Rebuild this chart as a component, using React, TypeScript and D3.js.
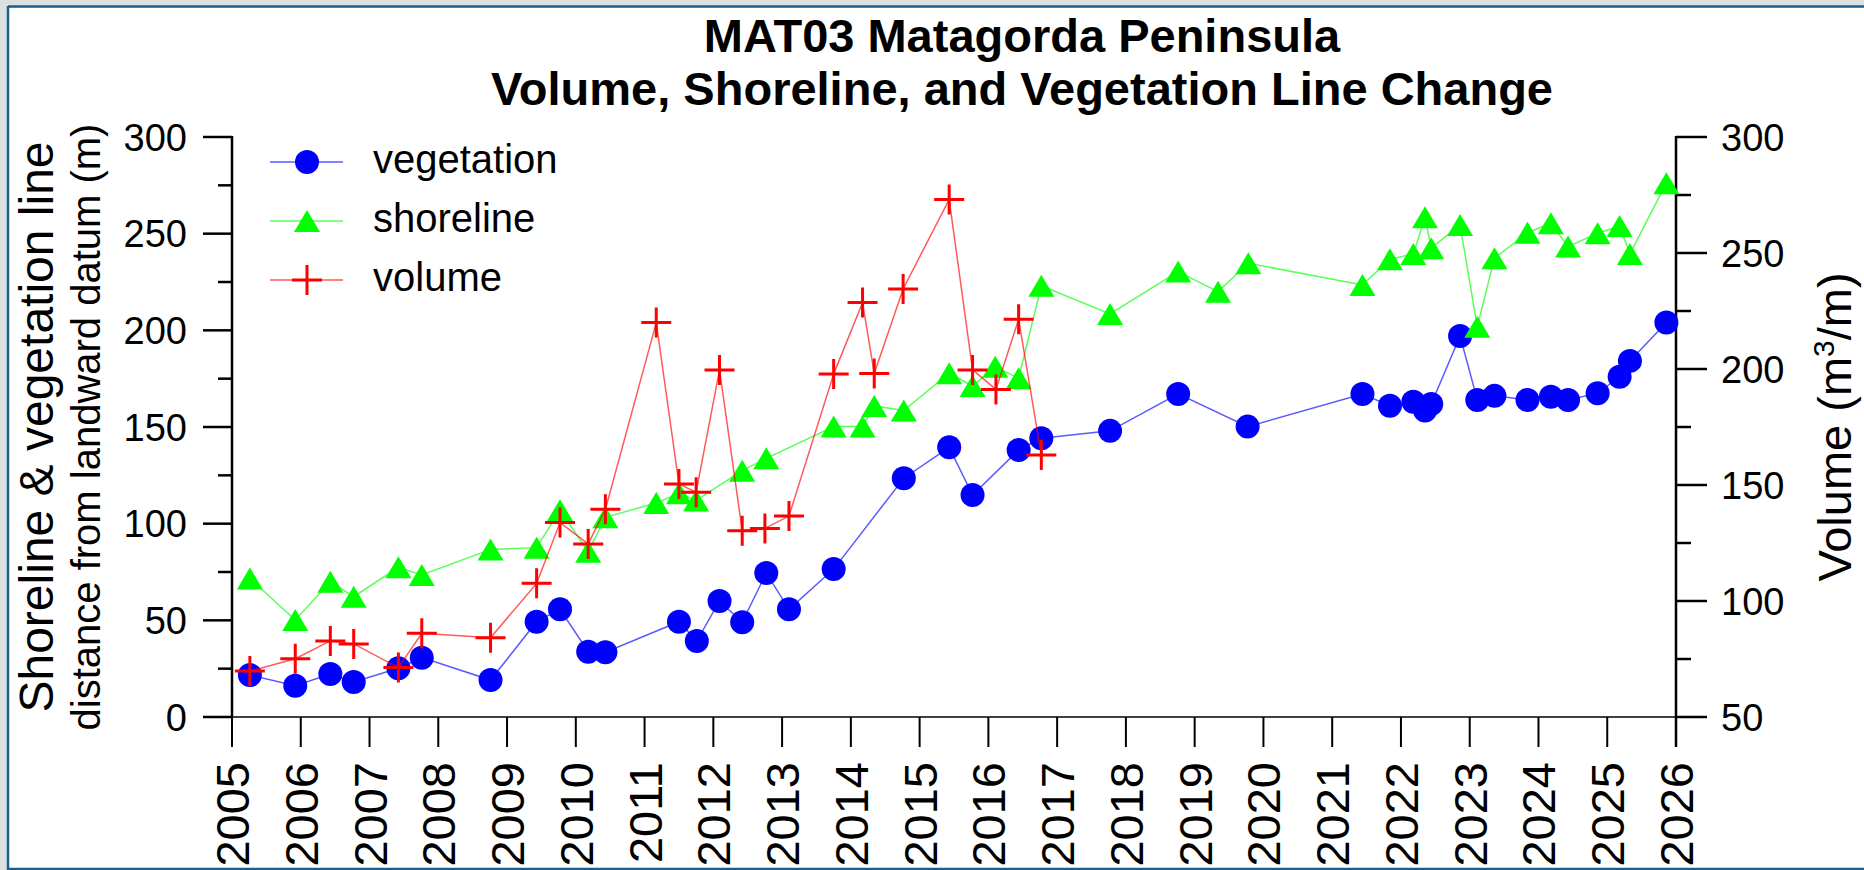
import React, { useEffect, useRef } from "react";
import * as d3 from "d3";

// vegetation line (m from landward datum)
const vegYears = [2005.26, 2005.92, 2006.43, 2006.77, 2007.42, 2007.76, 2008.76, 2009.43, 2009.77, 2010.18, 2010.43, 2011.5, 2011.76, 2012.09, 2012.42, 2012.77, 2013.1, 2013.75, 2014.77, 2015.43, 2015.77, 2016.44, 2016.77, 2017.77, 2018.76, 2019.77, 2021.44, 2021.84, 2022.18, 2022.35, 2022.44, 2022.86, 2023.11, 2023.36, 2023.84, 2024.18, 2024.43, 2024.86, 2025.18, 2025.33, 2025.86];
const vegValues = [21.7, 16.2, 22.2, 18.1, 25.2, 30.7, 19.1, 49.3, 55.7, 33.8, 33.5, 49.3, 39.3, 60, 49, 74.5, 55.7, 76.5, 123.5, 139.5, 114.8, 138.1, 144.2, 148, 167.1, 150.2, 167.1, 161, 163.1, 158.5, 161.9, 197.1, 164, 166.1, 164, 165.7, 164, 167.5, 176, 184.2, 204];

// shoreline (m from landward datum)
const shoreYears = [2005.26, 2005.92, 2006.43, 2006.77, 2007.42, 2007.76, 2008.76, 2009.43, 2009.77, 2010.18, 2010.43, 2011.17, 2011.5, 2011.75, 2012.42, 2012.77, 2013.75, 2014.17, 2014.34, 2014.77, 2015.43, 2015.77, 2016.1, 2016.44, 2016.77, 2017.77, 2018.76, 2019.34, 2019.78, 2021.44, 2021.84, 2022.18, 2022.35, 2022.44, 2022.86, 2023.11, 2023.36, 2023.84, 2024.18, 2024.43, 2024.86, 2025.18, 2025.33, 2025.86];
const shoreValues = [71.7, 50.2, 70, 62.2, 77.4, 73.5, 86.7, 87.6, 107, 85.5, 103.3, 110.7, 115.7, 112, 127.4, 133.8, 150.2, 150.2, 160.9, 158.5, 177.8, 171.2, 181.2, 175.2, 223, 208.5, 230.4, 220, 234.7, 223.5, 236.8, 239.5, 258.5, 242.5, 254.5, 201.9, 237.3, 250.5, 255.4, 243.3, 250.2, 254, 239.5, 276.1];

// volume (m3/m), right axis
const volYears = [2005.26, 2005.92, 2006.43, 2006.77, 2007.42, 2007.76, 2008.76, 2009.43, 2009.77, 2010.18, 2010.43, 2011.17, 2011.5, 2011.75, 2012.09, 2012.42, 2012.75, 2013.1, 2013.75, 2014.17, 2014.34, 2014.76, 2015.43, 2015.77, 2016.11, 2016.44, 2016.77];
const volValues = [69.8, 75.1, 82.8, 81.5, 71.3, 86.1, 84.2, 107.6, 133.8, 124.6, 139.5, 220, 150.4, 146.9, 199.6, 130.3, 131.3, 136.6, 197.8, 228.7, 198.1, 234.5, 273.1, 199.6, 191.2, 221.4, 162.9];

const yearTicks = d3.range(2005, 2027);
const leftTicks = [0, 50, 100, 150, 200, 250, 300];
const leftMinor = [25, 75, 125, 175, 225, 275];
const rightTicks = [50, 100, 150, 200, 250, 300];
const rightMinor = [75, 125, 175, 225, 275];

const titleLines = ["MAT03 Matagorda Peninsula", "Volume, Shoreline, and Vegetation Line Change"];

const FONT = "'Liberation Sans', Arial, sans-serif";

const App = () => {
  const svgRef = useRef(null);

  useEffect(() => {
    document.body.style.margin = "0";
    draw();
  }, []);

  const draw = () => {
    const svg = d3.select(svgRef.current);
    svg.selectAll("*").remove();

    const W = 1864;
    const H = 870;
    const left = 232;
    const right = 1676;
    const top = 137;
    const bottom = 717;

    // frame
    svg.append("rect").attr("width", W).attr("height", H).attr("fill", "#dce1df");
    svg.append("rect").attr("x", 9).attr("y", 8).attr("width", W - 9).attr("height", H - 10).attr("fill", "#fff");
    svg.append("line").attr("x1", 8).attr("x2", W).attr("y1", 6.5).attr("y2", 6.5).attr("stroke", "#1b5f8f").attr("stroke-width", 2.5);
    svg.append("line").attr("x1", 8).attr("x2", 8).attr("y1", 6).attr("y2", H).attr("stroke", "#1b5f8f").attr("stroke-width", 2.5);
    svg.append("line").attr("x1", 8).attr("x2", W).attr("y1", 869).attr("y2", 869).attr("stroke", "#1b5f8f").attr("stroke-width", 2.5);

    const x = d3.scaleLinear().domain([2005, 2026]).range([left, right]);
    const yL = d3.scaleLinear().domain([0, 300]).range([bottom, top]);
    const yR = d3.scaleLinear().domain([50, 300]).range([bottom, top]);

    // title
    svg
      .append("g")
      .selectAll("text")
      .data(titleLines)
      .enter()
      .append("text")
      .attr("x", 1022)
      .attr("y", (d, i) => 52 + i * 53)
      .attr("text-anchor", "middle")
      .attr("font-family", FONT)
      .attr("font-weight", "bold")
      .attr("font-size", 47)
      .text((d) => d);

    // axes
    const axes = svg.append("g").attr("stroke", "#000");
    axes.append("line").attr("x1", left).attr("x2", right).attr("y1", bottom).attr("y2", bottom).attr("stroke-width", 1.6);
    axes.append("line").attr("x1", left).attr("x2", left).attr("y1", top - 1).attr("y2", bottom + 1).attr("stroke-width", 2.5);
    axes.append("line").attr("x1", right).attr("x2", right).attr("y1", top - 1).attr("y2", bottom + 30).attr("stroke-width", 2.5);

    axes.selectAll(".lt").data(leftTicks).enter().append("line")
      .attr("x1", left - 29).attr("x2", left).attr("y1", (d) => yL(d)).attr("y2", (d) => yL(d)).attr("stroke-width", 2.5);
    axes.selectAll(".lm").data(leftMinor).enter().append("line")
      .attr("x1", left - 14).attr("x2", left).attr("y1", (d) => yL(d)).attr("y2", (d) => yL(d)).attr("stroke-width", 2.5);
    axes.selectAll(".rt").data(rightTicks).enter().append("line")
      .attr("x1", right).attr("x2", right + 31).attr("y1", (d) => yR(d)).attr("y2", (d) => yR(d)).attr("stroke-width", 2.5);
    axes.selectAll(".rm").data(rightMinor).enter().append("line")
      .attr("x1", right).attr("x2", right + 15).attr("y1", (d) => yR(d)).attr("y2", (d) => yR(d)).attr("stroke-width", 2.5);
    axes.selectAll(".xt").data(yearTicks).enter().append("line")
      .attr("x1", (d) => x(d)).attr("x2", (d) => x(d)).attr("y1", bottom).attr("y2", bottom + 30).attr("stroke-width", 2);

    const labels = svg.append("g").attr("font-family", FONT).attr("fill", "#000");
    labels.selectAll(".ll").data(leftTicks).enter().append("text")
      .attr("x", left - 45).attr("y", (d) => yL(d)).attr("dy", "0.36em")
      .attr("text-anchor", "end").attr("font-size", 38).text((d) => d);
    labels.selectAll(".rl").data(rightTicks).enter().append("text")
      .attr("x", right + 45).attr("y", (d) => yR(d)).attr("dy", "0.36em")
      .attr("text-anchor", "start").attr("font-size", 38).text((d) => d);
    labels.selectAll(".xl").data(yearTicks).enter().append("text")
      .attr("transform", (d) => `translate(${x(d) + 17}, 762) rotate(-90)`)
      .attr("text-anchor", "end").attr("font-size", 47).text((d) => d);

    // axis titles
    labels.append("text")
      .attr("transform", `translate(53, ${(top + bottom) / 2}) rotate(-90)`)
      .attr("text-anchor", "middle").attr("font-size", 48)
      .text("Shoreline & vegetation line");
    labels.append("text")
      .attr("transform", `translate(100, ${(top + bottom) / 2}) rotate(-90)`)
      .attr("text-anchor", "middle").attr("font-size", 40)
      .text("distance from landward datum (m)");
    const rt = labels.append("text")
      .attr("transform", `translate(1851, ${(top + bottom) / 2}) rotate(-90)`)
      .attr("text-anchor", "middle").attr("font-size", 47);
    rt.append("tspan").text("Volume (m");
    rt.append("tspan").attr("font-size", 30).attr("dy", -17).text("3");
    rt.append("tspan").attr("dy", 17).text("/m)");

    // marker helpers
    const circle = (g, cx, cy) =>
      g.append("circle").attr("cx", cx).attr("cy", cy).attr("r", 12).attr("fill", "#0000ff");
    const tri = (g, cx, cy) =>
      g.append("path")
        .attr("d", `M${cx},${cy - 11}L${cx + 13},${cy + 11}L${cx - 13},${cy + 11}Z`)
        .attr("fill", "#00ff00");
    const cross = (g, cx, cy) =>
      g.append("path")
        .attr("d", `M${cx - 15},${cy}H${cx + 15}M${cx},${cy - 15}V${cy + 15}`)
        .attr("stroke", "#ff0000").attr("stroke-width", 3).attr("fill", "none");

    const series = [
      { years: vegYears, values: vegValues, y: yL, color: "#0000ff", marker: circle },
      { years: shoreYears, values: shoreValues, y: yL, color: "#00ff00", marker: tri },
      { years: volYears, values: volValues, y: yR, color: "#ff0000", marker: cross },
    ];

    series.forEach((s) => {
      const pts = s.years.map((yr, i) => [x(yr), s.y(s.values[i])]);
      const g = svg.append("g");
      g.append("path")
        .attr("d", d3.line()(pts))
        .attr("fill", "none")
        .attr("stroke", s.color)
        .attr("stroke-opacity", 0.65)
        .attr("stroke-width", 1.5);
      pts.forEach((p) => s.marker(g, p[0], p[1]));
    });

    // legend
    const legendNames = ["vegetation", "shoreline", "volume"];
    legendNames.forEach((name, i) => {
      const ly = 162 + i * 59;
      const g = svg.append("g");
      g.append("line").attr("x1", 270).attr("x2", 343).attr("y1", ly).attr("y2", ly)
        .attr("stroke", series[i].color).attr("stroke-opacity", 0.65).attr("stroke-width", 1.5);
      series[i].marker(g, 307, ly);
      g.append("text").attr("x", 373).attr("y", ly + 11)
        .attr("font-family", FONT).attr("font-size", 40).text(name);
    });
  };

  return (
    <svg
      ref={svgRef}
      width={1864}
      height={870}
      style={{ position: "absolute", left: 0, top: 0, display: "block" }}
    />
  );
};

export default App;
